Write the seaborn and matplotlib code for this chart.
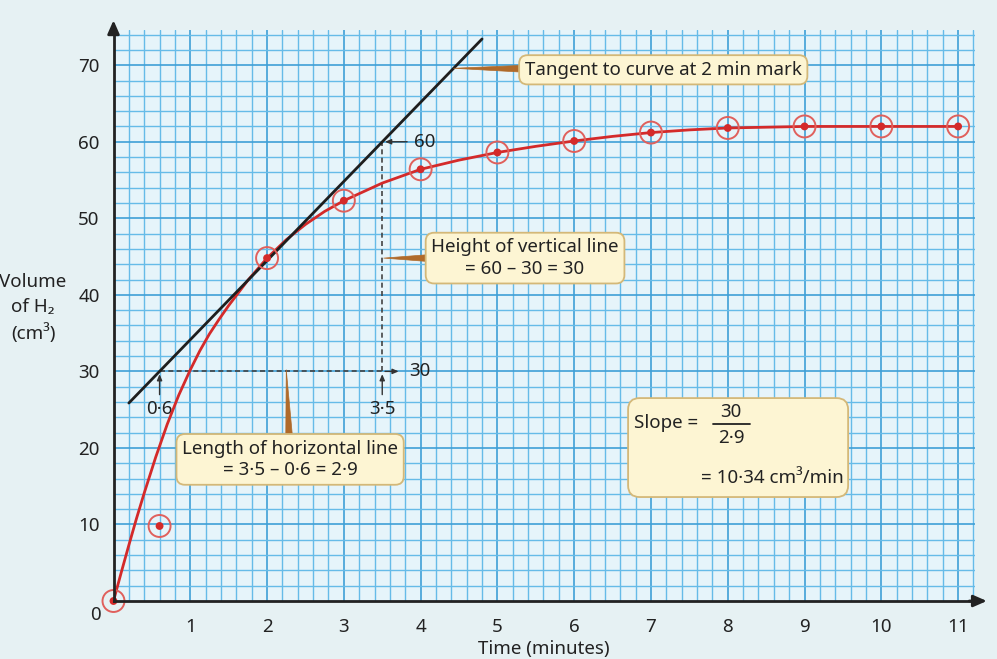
import numpy as np
import pandas as pd
import seaborn as sns
import matplotlib.pyplot as plt
from matplotlib.patches import FancyBboxPatch

# measured points (time in minutes, volume of H2 in cm3)
time_min = [0, 0.6, 2, 3, 4, 5, 6, 7, 8, 9, 10, 11]
volume = [0, 9.8, 44.8, 52.3, 56.4, 58.6, 60.1, 61.2, 61.8, 62.0, 62.0, 62.0]

# hand-drawn best fit curve
curve_x = [0, 0.1, 0.2, 0.3, 0.4, 0.55, 0.7, 0.85, 1.0, 1.125, 1.25, 1.375, 1.5,
           1.75, 2.0, 2.25, 2.5, 2.75, 3.0, 3.5, 4.0, 4.5, 5.0, 5.5, 6.0, 6.5,
           7.0, 7.5, 8.0, 9.0, 10.0, 11.0]
curve_y = [0, 3.7, 7.3, 10.8, 14.1, 18.8, 23.1, 26.9, 30.2, 32.7, 34.9, 36.8, 38.6,
           41.9, 44.8, 47.2, 49.2, 50.9, 52.3, 54.6, 56.4, 57.6, 58.6, 59.4, 60.1, 60.7,
           61.2, 61.55, 61.8, 62.0, 62.0, 62.0]

# tangent at the 2 minute mark
tangent_x = [0.2, 4.8]
tangent_slope = 10.34
tangent_point = (0.6, 30)
x_ticks = list(range(1, 12))
y_ticks = list(range(10, 80, 10))

sns.set_style('white')
plt.rcParams['font.family'] = ['Noto Sans', 'DejaVu Sans']

BG = '#e6f1f3'
TXT = '#222222'
RED = '#d42a2a'
BOX_FC = '#fdf5d3'
BOX_EC = '#d4b878'
WEDGE = '#b06a2a'
FS = 13.5

fig = plt.figure(figsize=(9.97, 6.59), dpi=100, facecolor=BG)
ax = fig.add_axes([113.5 / 997, 58 / 659, 861.5 / 997, 571 / 659])
ax.set_facecolor('#e6f4fa')
ax.set_xlim(0, 11.22)
ax.set_ylim(0, 74.6)

# graph paper grid
ax.set_xticks(x_ticks)
ax.set_yticks(y_ticks)
ax.set_xticks(np.arange(0, 11.21, 0.2), minor=True)
ax.set_yticks(np.arange(0, 74.1, 2), minor=True)
ax.grid(which='minor', color='#66bbe8', lw=1.0)
ax.grid(which='major', color='#3f9fd6', lw=1.2)
ax.set_axisbelow(True)
ax.tick_params(which='minor', length=0)
ax.tick_params(which='major', length=6, width=1.5, color=TXT, labelsize=13.5,
               labelcolor=TXT)
ax.tick_params(axis='x', pad=6)
ax.tick_params(axis='y', pad=4)
for s in ['top', 'right']:
    ax.spines[s].set_visible(False)
for s in ['left', 'bottom']:
    ax.spines[s].set_linewidth(2)
    ax.spines[s].set_color(TXT)
    ax.spines[s].set_zorder(6)

# axis arrows
ax.annotate('', xy=(0, 1.022), xytext=(0, 0.99), xycoords='axes fraction',
            arrowprops=dict(arrowstyle='-|>,head_width=0.35,head_length=0.8',
                            lw=2, color=TXT), annotation_clip=False)
ax.annotate('', xy=(1.017, 0), xytext=(0.99, 0), xycoords='axes fraction',
            arrowprops=dict(arrowstyle='-|>,head_width=0.35,head_length=0.8',
                            lw=2, color=TXT), annotation_clip=False)
ax.text(-0.16, -0.7, '0', ha='right', va='top', fontsize=13.5, color=TXT)

ax.set_xlabel('Time (minutes)', fontsize=FS, color=TXT, labelpad=3)
ax.set_ylabel('')
fig.text(33 / 997, 1 - 308 / 659, 'Volume\nof H\u2082\n(cm\u00b3)', ha='center', va='center',
         fontsize=FS, color=TXT, linespacing=1.45)

# best-fit curve and data points
sns.lineplot(x=curve_x, y=curve_y, ax=ax, color=RED, lw=2, sort=False,
             estimator=None, zorder=4)
sns.scatterplot(x=time_min, y=volume, ax=ax, s=250, facecolor='none',
                edgecolor='#e0605c', linewidth=1.4, zorder=5, clip_on=False)
sns.scatterplot(x=time_min, y=volume, ax=ax, s=32, color=RED, edgecolor='none',
                zorder=5, clip_on=False)

# tangent line
tx = np.array(tangent_x)
ty = tangent_point[1] + tangent_slope * (tx - tangent_point[0])
sns.lineplot(x=tx, y=ty, ax=ax, color='#1e1e1e', lw=2, zorder=4)

# construction lines
x0, x1, y0, y1 = 0.6, 3.5, 30, 60
ax.plot([x0, x1], [y0, y0], ls=(0, (3, 2)), color='#444444', lw=1.2, zorder=3)
ax.plot([x1, x1], [y0, y1], ls=(0, (3, 2)), color='#444444', lw=1.2, zorder=3)
small = dict(arrowstyle='-|>,head_width=0.15,head_length=0.35', lw=1, color='#333333')
ax.annotate('', xy=(3.75, y0), xytext=(3.5, y0), arrowprops=small)
ax.annotate('', xy=(x1, y1), xytext=(3.86, y1), arrowprops=small)
ax.annotate('', xy=(x0, y0), xytext=(x0, 26.6), arrowprops=small)
ax.annotate('', xy=(x1, y0), xytext=(x1, 26.6), arrowprops=small)
ax.text(3.85, y0, '30', ha='left', va='center', fontsize=FS, color=TXT)
ax.text(3.92, y1, '60', ha='left', va='center', fontsize=FS, color=TXT)
ax.text(x0, 26.2, '0\u00b76', ha='center', va='top', fontsize=FS, color=TXT)
ax.text(x1, 26.2, '3\u00b75', ha='center', va='top', fontsize=FS, color=TXT)

# call-out boxes
bbox = dict(boxstyle='round,pad=0.3,rounding_size=0.45', fc=BOX_FC, ec=BOX_EC, lw=1.3)
wedge = dict(arrowstyle='wedge,tail_width=0.34,shrink_factor=0.5', fc=WEDGE, ec=WEDGE,
             lw=0.5, shrinkA=0, shrinkB=0)
ax.annotate('Tangent to curve at 2 min mark', xy=(4.43, 69.6), xytext=(7.16, 69.4),
            ha='center', va='center', fontsize=FS, color=TXT, bbox=bbox,
            arrowprops=wedge, zorder=7)
ax.annotate('Height of vertical line\n= 60 \u2013 30 = 30', xy=(3.52, 44.8),
            xytext=(5.36, 44.8), ha='center', va='center', fontsize=FS, color=TXT,
            bbox=bbox, arrowprops=wedge, zorder=7, linespacing=1.25)
ax.annotate('Length of horizontal line\n= 3\u00b75 \u2013 0\u00b76 = 2\u00b79', xy=(2.25, 30.2),
            xytext=(2.30, 18.5), ha='center', va='center', fontsize=FS, color=TXT,
            bbox=bbox, arrowprops=wedge, zorder=7, linespacing=1.25)

# slope box
bx0 = (628 - 113.5) / 76.77
by0 = (601 - 497) / 7.657
bw = (848 - 628) / 76.77
bh = (497 - 398) / 7.657
ax.add_patch(FancyBboxPatch((bx0, by0), bw, bh, boxstyle='round,pad=0,rounding_size=0.15',
                            mutation_aspect=1 / 0.1, fc=BOX_FC, ec=BOX_EC, lw=1.3, zorder=7))
ax.text(bx0 + 0.08, 23.2, 'Slope =', ha='left', va='center', fontsize=FS, color=TXT, zorder=8)
fx = (731 - 113.5) / 76.77
ax.text(fx, 24.7, '30', ha='center', va='center', fontsize=FS, color=TXT, zorder=8)
ax.plot([fx - 0.24, fx + 0.24], [23.1, 23.1], color=TXT, lw=1.3, zorder=8)
ax.text(fx, 21.3, '2\u00b79', ha='center', va='center', fontsize=FS, color=TXT, zorder=8)
ax.text(bx0 + bw - 0.06, 16.1, '= 10\u00b734 cm\u00b3/min', ha='right', va='center',
        fontsize=FS, color=TXT, zorder=8)

fig.savefig('out.png', dpi=100, facecolor=BG)
